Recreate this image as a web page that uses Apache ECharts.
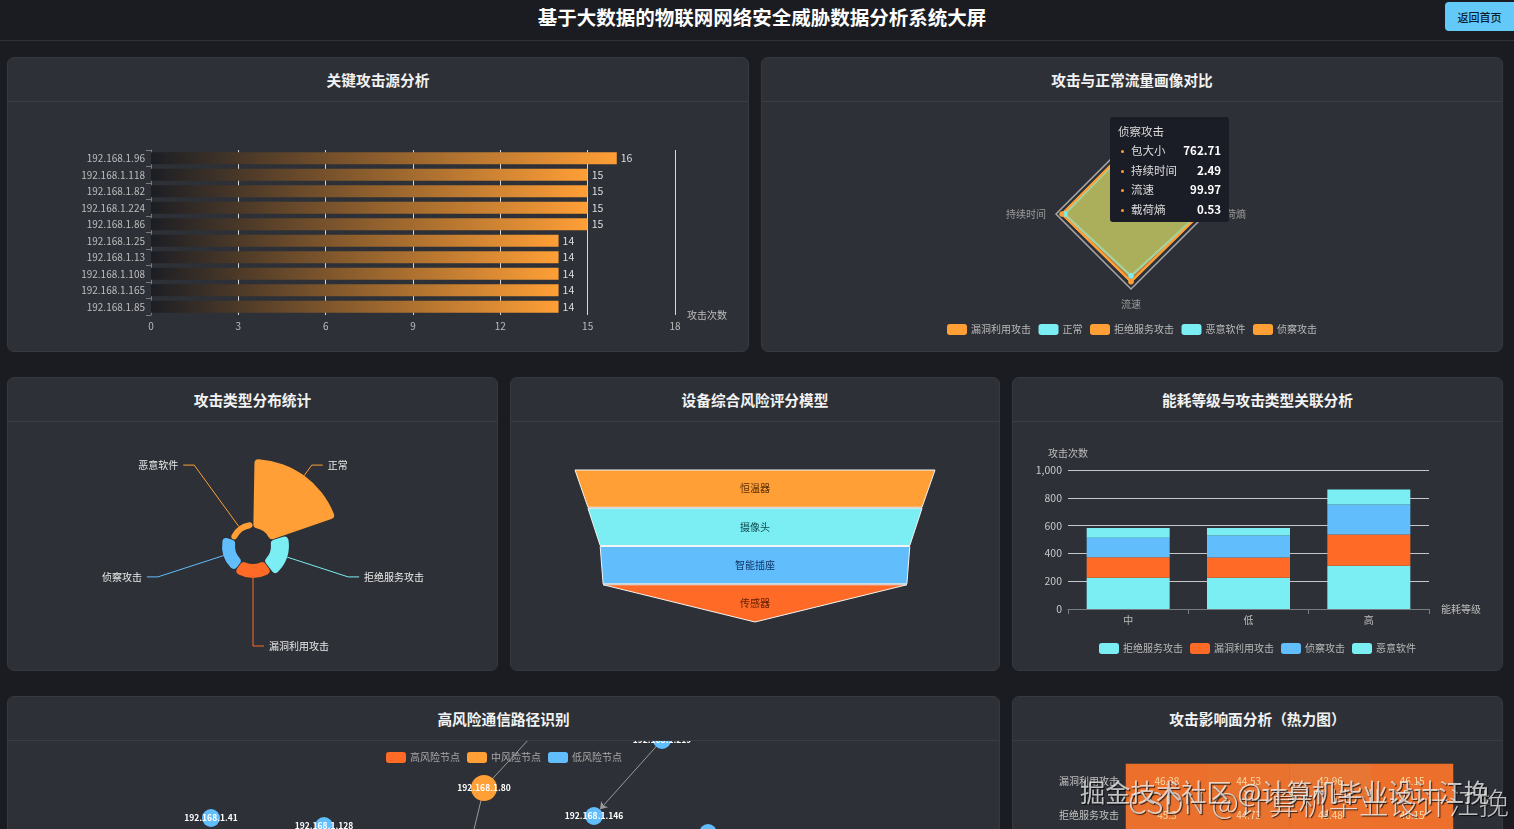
<!DOCTYPE html>
<html>
<head>
<title>物联网网络安全威胁数据分析系统大屏</title>
<meta charset="UTF-8">
<script src="https://cdn.jsdelivr.net/npm/echarts@6/dist/echarts.min.js"></script>
<style>
  html, body { margin: 0; padding: 0; width: 1514px; height: 829px; overflow: hidden; background: #1a1c22; font-family: "Noto Sans CJK SC", sans-serif; }
  #top { position: absolute; left: 0; top: 0; width: 1514px; height: 40px; border-bottom: 1px solid #2f3238; }
  #top h1 { position: absolute; left: 0; top: 4px; width: 1524px; margin: 0; text-align: center; font-size: 19.5px; line-height: 26px; color: #fff; font-weight: 700; }
  #back { position: absolute; left: 1445px; top: 2px; width: 69px; height: 29px; line-height: 31px; background: #62c9f8; border-radius: 4px 0 0 4px; color: #0c1f30; font-size: 11px; font-weight: 500; text-align: center; }
  .panel { position: absolute; box-sizing: border-box; background: #2d3036; border: 1px solid #363940; border-radius: 7px; overflow: hidden; }
  .panel h2 { margin: 0; height: 44px; line-height: 44px; box-sizing: border-box; border-bottom: 1px solid #3a3d44; color: #f2f2f2; text-align: center; font-size: 14.7px; font-weight: 700; }
  .chart { position: absolute; left: 0; top: 44px; }
  .mark { position: absolute; white-space: nowrap; color: rgba(255,255,255,.72); text-shadow: 1px 1px 1px rgba(0,0,0,.75); }
  .tip { width: 103px; height: 93px; padding: 4px 8px 8px 8px; background: #1a1c26; border-radius: 3px; color: #dcdcdc; font-family: "Noto Sans CJK SC", sans-serif; font-size: 11.5px; line-height: 19px; }
  .tip .head { height: 20px; line-height: 20px; }
  .tip .row { display: flex; justify-content: space-between; align-items: center; height: 19.5px; }
  .tip .dot { display: inline-block; width: 3px; height: 3px; border-radius: 50%; background: #ff9f36; margin: 0 7px 2px 3px; }
  .tip b { color: #fff; }
</style>
</head>
<body>
<div id="top"><h1>基于大数据的物联网网络安全威胁数据分析系统大屏</h1><div id="back">返回首页</div></div>

<div class="panel" style="left:7px;top:57px;width:742px;height:295px"><h2>关键攻击源分析</h2><div class="chart" id="c1" style="width:742px;height:250px"></div></div>
<div class="panel" style="left:761px;top:57px;width:742px;height:295px"><h2>攻击与正常流量画像对比</h2><div class="chart" id="c2" style="width:742px;height:250px"></div></div>
<div class="panel" style="left:7px;top:377px;width:491px;height:294px"><h2>攻击类型分布统计</h2><div class="chart" id="c3" style="width:491px;height:250px"></div></div>
<div class="panel" style="left:510px;top:377px;width:490px;height:294px"><h2>设备综合风险评分模型</h2><div class="chart" id="c4" style="width:490px;height:250px"></div></div>
<div class="panel" style="left:1012px;top:377px;width:491px;height:294px"><h2>能耗等级与攻击类型关联分析</h2><div class="chart" id="c5" style="width:491px;height:250px"></div></div>
<div class="panel" style="left:7px;top:696px;width:993px;height:300px"><h2>高风险通信路径识别</h2><div class="chart" id="c6" style="width:993px;height:256px"></div></div>
<div class="panel" style="left:1012px;top:696px;width:491px;height:300px"><h2>攻击影响面分析（热力图）</h2><div class="chart" id="c7" style="width:491px;height:256px"></div></div>

<div class="mark" style="left:1128px;top:781px;font-size:30px;line-height:40px;font-weight:300">CSDN @计算机毕业设计江挽</div>
<div class="mark" style="left:1080px;top:775px;font-size:25.3px;line-height:32px">掘金技术社区 @计算机毕业设计江挽</div>

<script type="text/javascript">
  var FONT = '"Noto Sans CJK SC", sans-serif';
  var ORANGE = '#ff9f36', CYAN = '#7aeef2', RED = '#ff6b26', BLUE = '#62bdfd';

  // 关键攻击源
  var sourceIps = ['192.168.1.96', '192.168.1.118', '192.168.1.82', '192.168.1.224', '192.168.1.86', '192.168.1.25', '192.168.1.13', '192.168.1.108', '192.168.1.165', '192.168.1.85'];
  var sourceCounts = [16, 15, 15, 15, 15, 14, 14, 14, 14, 14];

  // 流量画像
  var radarNames = ['包大小', '持续时间', '流速', '载荷熵'];
  var radarMax = [830, 2.7, 111, 0.576];
  var radarTypes = ['漏洞利用攻击', '正常', '拒绝服务攻击', '恶意软件', '侦察攻击'];
  var radarExploit = [760.4, 2.48, 100.2, 0.53];
  var radarNormal = [752.1, 2.38, 91, 0.52];
  var radarDos = [764.3, 2.47, 100.5, 0.53];
  var radarMalware = [755.8, 2.39, 92, 0.52];
  var radarRecon = [762.71, 2.49, 99.97, 0.53];

  // 攻击类型分布
  var pieNames = ['正常', '拒绝服务攻击', '漏洞利用攻击', '侦察攻击', '恶意软件'];
  var pieValues = [2880, 750, 580, 540, 250];

  // 设备风险
  var deviceNames = ['恒温器', '摄像头', '智能插座', '传感器'];
  var deviceScores = [100, 92.8, 86, 84.4];
  var deviceLabelColors = ['#5a2f04', '#0f4a4e', '#0f3568', '#5e1c04'];

  // 能耗等级
  var energyLevels = ['中', '低', '高'];
  var energyDos = [224, 224, 312];
  var energyExploit = [149, 146, 224];
  var energyRecon = [139, 159, 216];
  var energyMalware = [70, 53, 108];

  // 通信路径，坐标读自图中
  var nodeNames = ['192.168.1.80', '192.168.1.41', '192.168.1.128', '192.168.1.146', '192.168.1.219', '192.168.1.60', '192.168.1.33', '192.168.1.77'];
  var nodeX = [476, 203, 316, 586, 654, 700, 556, 456];
  var nodeY = [47, 77, 85, 75, -1, 92, -40, 130];
  var nodeCats = [1, 2, 2, 2, 2, 2, 0, 0];
  var nodeSizes = [26, 18, 18, 18, 18, 18, 26, 26];
  var edgeFrom = ['192.168.1.219', '192.168.1.80', '192.168.1.80'];
  var edgeTo = ['192.168.1.146', '192.168.1.33', '192.168.1.77'];
  var riskNames = ['高风险节点', '中风险节点', '低风险节点'];

  // 热力图
  var heatAttacks = ['漏洞利用攻击', '拒绝服务攻击'];
  var heatColumns = ['包大小', '持续时间', '流速', '载荷熵'];
  var heatRow1 = [46.38, 44.53, 42.96, 46.15];
  var heatRow2 = [45.3, 44.73, 45.48, 46.15];

  var c1 = echarts.init(document.getElementById('c1'));
  c1.setOption({
    animation: false,
    textStyle: { fontFamily: FONT },
    grid: { left: 143, top: 48, width: 524, height: 165 },
    xAxis: {
      type: 'value', min: 0, max: 18, interval: 3,
      name: '攻击次数', nameGap: 12, nameTextStyle: { color: '#bdbdbd', fontSize: 10 },
      axisLine: { show: false }, axisTick: { show: false },
      axisLabel: { color: '#bdbdbd', fontSize: 10, margin: 6 },
      splitLine: { show: true, lineStyle: { color: '#d8d8d8', width: 1 } }
    },
    yAxis: {
      type: 'category', inverse: true, data: sourceIps,
      axisLine: { show: true, lineStyle: { color: '#777b82' } },
      axisTick: { show: true, lineStyle: { color: '#777b82' } },
      axisLabel: { color: '#bdbdbd', fontSize: 10, margin: 6 }
    },
    series: [{
      type: 'bar', data: sourceCounts, barWidth: 12,
      itemStyle: { color: new echarts.graphic.LinearGradient(0, 0, 1, 0, [{ offset: 0, color: '#1c1e24' }, { offset: 1, color: ORANGE }]) },
      label: { show: true, position: 'right', color: '#dddddd', fontSize: 10.5, distance: 4 }
    }]
  });

  var c2 = echarts.init(document.getElementById('c2'));
  var radarRows = [radarExploit, radarNormal, radarDos, radarMalware, radarRecon];
  var radarColors = [ORANGE, CYAN, ORANGE, CYAN, ORANGE];
  c2.setOption({
    animation: false,
    textStyle: { fontFamily: FONT },
    color: radarColors,
    legend: {
      data: radarTypes, left: 180, top: 217, itemWidth: 20, itemHeight: 11, itemGap: 7.5, itemStyle: {},
      textStyle: { color: '#b8b8b8', fontSize: 10, padding: [0, 0, 0, -1] }
    },
    tooltip: {
      trigger: 'item', triggerOn: 'none', alwaysShowContent: true, transitionDuration: 0,
      position: [348, 15], padding: 0, borderWidth: 0, backgroundColor: 'transparent', extraCssText: 'box-shadow:none;',
      formatter: function (p) {
        var rows = radarNames.map(function (n, i) {
          return '<div class="row"><span><span class="dot"></span>' + n + '</span><b>' + p.value[i] + '</b></div>';
        }).join('');
        return '<div class="tip"><div class="head">' + p.name + '</div>' + rows + '</div>';
      }
    },
    radar: {
      center: [369, 112], radius: 75, splitNumber: 1,
      indicator: radarNames.map(function (n, i) { return { name: n, max: radarMax[i] }; }),
      axisName: { color: '#9a9a9a', fontSize: 10 }, nameGap: 10,
      axisLine: { show: false },
      splitArea: { show: false },
      splitLine: { lineStyle: { color: '#a8a8a8', width: 1.5 } }
    },
    series: [{
      type: 'radar', symbolSize: 5,
      lineStyle: { width: 2 },
      data: radarTypes.map(function (n, i) {
        var isCyan = radarColors[i] === CYAN;
        return { name: n, value: radarRows[i], areaStyle: { color: isCyan ? '#70e090' : ORANGE, opacity: isCyan ? 0.45 : 0.3 } };
      })
    }]
  });
  c2.dispatchAction({ type: 'showTip', seriesIndex: 0, dataIndex: 4 });

  var c3 = echarts.init(document.getElementById('c3'));
  c3.setOption({
    animation: false,
    textStyle: { fontFamily: FONT },
    color: [ORANGE, CYAN, RED, BLUE, ORANGE],
    series: [{
      type: 'pie', roseType: 'area', center: [245, 124], radius: [18, 87], startAngle: 90,
      padAngle: 2, itemStyle: { borderRadius: 4 },
      label: { color: '#e8e8e8', fontSize: 10 },
      labelLine: { length: 13, length2: 11, smooth: false },
      data: pieNames.map(function (n, i) { return { name: n, value: pieValues[i] }; })
    }]
  });

  var c4 = echarts.init(document.getElementById('c4'));
  c4.setOption({
    animation: false,
    textStyle: { fontFamily: FONT },
    color: [ORANGE, CYAN, BLUE, RED],
    series: [{
      type: 'funnel', left: 64, top: 48, width: 360, height: 152, min: 0, max: 100, minSize: '0%', maxSize: '100%',
      sort: 'none', gap: 1,
      itemStyle: { borderColor: '#f4f4f4', borderWidth: 1 },
      label: { position: 'inside', fontSize: 10 },
      labelLine: { show: false },
      data: deviceNames.map(function (n, i) { return { name: n, value: deviceScores[i], label: { color: deviceLabelColors[i] } }; })
    }]
  });

  var c5 = echarts.init(document.getElementById('c5'));
  var energyNames = ['拒绝服务攻击', '漏洞利用攻击', '侦察攻击', '恶意软件'];
  var energyRows = [energyDos, energyExploit, energyRecon, energyMalware];
  c5.setOption({
    animation: false,
    textStyle: { fontFamily: FONT },
    color: [CYAN, RED, BLUE, CYAN],
    legend: {
      data: energyNames, left: 81, top: 216, itemWidth: 20, itemHeight: 11, itemGap: 7, itemStyle: {},
      textStyle: { color: '#b8b8b8', fontSize: 10, padding: [0, 0, 0, -1] }
    },
    grid: { left: 55, top: 48, width: 361, height: 139 },
    xAxis: {
      type: 'category', data: energyLevels,
      name: '能耗等级', nameGap: 12, nameTextStyle: { color: '#bdbdbd', fontSize: 10 },
      axisLine: { lineStyle: { color: '#777b82' } }, axisTick: { show: true, lineStyle: { color: '#777b82' } },
      axisLabel: { color: '#bdbdbd', fontSize: 10, margin: 6 }
    },
    yAxis: {
      type: 'value', min: 0, max: 1000, interval: 200,
      name: '攻击次数', nameGap: 12, nameTextStyle: { color: '#bdbdbd', fontSize: 10 },
      axisLine: { show: false }, axisTick: { show: false },
      axisLabel: { color: '#c8c8c8', fontSize: 10.5, margin: 6 },
      splitLine: { lineStyle: { color: '#c4c6c8' } }
    },
    series: energyNames.map(function (n, i) {
      return { name: n, type: 'bar', stack: 'a', barWidth: 83, data: energyRows[i] };
    })
  });

  var c6 = echarts.init(document.getElementById('c6'));
  c6.setOption({
    animation: false,
    textStyle: { fontFamily: FONT },
    color: [RED, ORANGE, BLUE],
    legend: {
      data: riskNames, left: 373, top: 6, itemWidth: 20, itemHeight: 11, itemGap: 7, itemStyle: {},
      textStyle: { color: '#a8a8a8', fontSize: 10, padding: [0, 0, 0, -1] }
    },
    grid: { left: 0, top: 0, right: 0, bottom: 0 },
    xAxis: { type: 'value', min: 0, max: 993, show: false },
    yAxis: { type: 'value', min: 0, max: 256, inverse: true, show: false },
    series: [{
      type: 'graph', coordinateSystem: 'cartesian2d', clip: false,
      categories: riskNames.map(function (n) { return { name: n }; }),
      edgeSymbol: ['none', 'arrow'], edgeSymbolSize: 7,
      label: { show: true, position: 'inside', color: '#fff', fontSize: 8.5, fontWeight: 700 },
      lineStyle: { color: '#9a9a9a', width: 1, opacity: 1 },
      data: nodeNames.map(function (n, i) {
        return { name: n, value: [nodeX[i], nodeY[i]], category: nodeCats[i], symbolSize: nodeSizes[i] };
      }),
      links: edgeFrom.map(function (s, i) { return { source: s, target: edgeTo[i] }; })
    }]
  });

  var c7 = echarts.init(document.getElementById('c7'));
  var heatCells = [];
  heatColumns.forEach(function (c, i) {
    heatCells.push([i, 0, heatRow1[i]]);
    heatCells.push([i, 1, heatRow2[i]]);
  });
  c7.setOption({
    animation: false,
    textStyle: { fontFamily: FONT },
    grid: { left: 113, top: 23, width: 327, height: 68 },
    xAxis: { type: 'category', data: heatColumns, axisLine: { show: false }, axisTick: { show: false }, axisLabel: { show: false } },
    yAxis: { type: 'category', inverse: true, data: heatAttacks, axisLine: { show: false }, axisTick: { show: false }, axisLabel: { color: '#c0c0c0', fontSize: 10, margin: 7 } },
    visualMap: { show: false, min: 40, max: 50, dimension: 2, inRange: { color: ['#e2793a', '#f26a22'] } },
    series: [{
      type: 'heatmap', data: heatCells,
      label: { show: true, color: '#f6d9a6', fontSize: 10 }
    }]
  });
</script>
</body>
</html>
